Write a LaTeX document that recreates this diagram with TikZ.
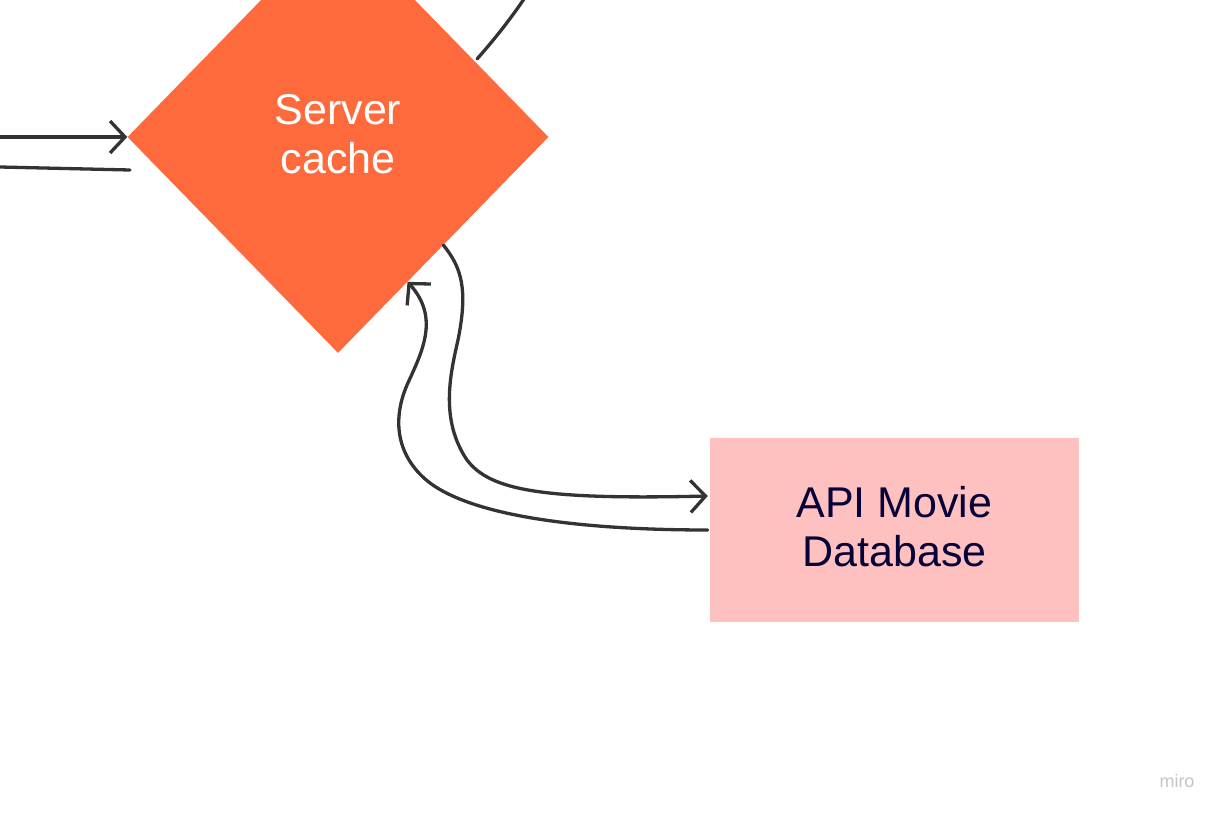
\documentclass[tikz,border=0pt]{standalone}
\usepackage{fontspec}
\setmainfont{Liberation Sans}
\usetikzlibrary{shapes.geometric,arrows.meta,calc}
\definecolor{cacheorange}{HTML}{FF6A3D}
\definecolor{dbpink}{HTML}{FFC0C0}
\definecolor{navy}{HTML}{050038}
\definecolor{linegray}{HTML}{333333}
\definecolor{mirogray}{HTML}{C4C4CA}
\tikzset{
  conn/.style={draw=linegray, line width=3.3pt, line cap=round},
  arr/.style={conn, -{Straight Barb[length=15pt,width=32pt,line width=3.3pt]}},
  bigtext/.style={font=\fontsize{43}{49}\selectfont, align=center},
}
\begin{document}
\begin{tikzpicture}[x=1pt,y=-1pt]
\useasboundingbox (0,0) rectangle (1224,816);
\clip (0,0) rectangle (1224,816);
\fill[white] (0,0) rectangle (1224,816);
\node[diamond, fill=cacheorange, inner sep=0pt, minimum width=421pt, minimum height=432pt,
      bigtext, text=white] (dia) at (338,137) {\raisebox{3pt}[\height][\depth]{\parbox{200pt}{\centering Server\\cache}}};
\node[rectangle, fill=dbpink, minimum width=369pt, minimum height=184pt, inner sep=0pt,
      bigtext, text=navy] (db) at (894.5,530) {\raisebox{3pt}[\height][\depth]{\parbox{300pt}{\centering API Movie\\Database}}};
\node[font=\fontsize{18}{20}\selectfont, text=mirogray] (miro) at (1177,781) {miro};
\coordinate (inL) at (0,137);
\coordinate (outL) at (0,167);
\coordinate (outLend) at (130,170);
\coordinate (topR) at (526,-4);
\draw[arr] (inL) -- (dia.west);
\draw[conn] (outL) -- (outLend);
\draw[conn] (477,59) .. controls (493,41) and (510,20) .. (topR);
\draw[arr] (dia.south east) .. controls (462,268) and (468,290) .. (458,340)
   .. controls (450,375) and (440,420) .. (467,460)
   .. controls (490,490) and (540,500) .. ($(db.west)+(-2,-34)$);
\draw[arr] ($(db.west)+(-2,0)$) .. controls (600,530) and (480,520) .. (430,483)
   .. controls (400,460) and (390,425) .. (407,385)
   .. controls (422,352) and (440,318) .. ($(dia.south east)!0.34!(dia.south)$);
\end{tikzpicture}
\end{document}
